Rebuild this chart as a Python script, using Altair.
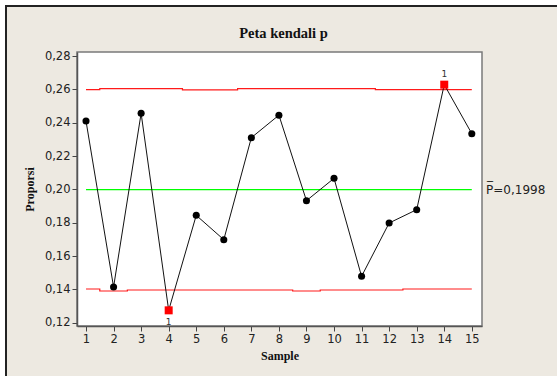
import altair as alt
import pandas as pd

# Proportion defective per sample, with Minitab-style stepped control limits
samples = list(range(1, 16))
proporsi = [0.2410, 0.1414, 0.2456, 0.1274, 0.1844, 0.1698, 0.2310, 0.2445,
            0.1932, 0.2066, 0.1478, 0.1798, 0.1878, 0.2628, 0.2334]
ucl = [0.2598, 0.2604, 0.2604, 0.2604, 0.2597, 0.2597, 0.2604, 0.2604,
       0.2604, 0.2604, 0.2604, 0.2598, 0.2598, 0.2598, 0.2598]
lcl = [0.1402, 0.1390, 0.1396, 0.1396, 0.1396, 0.1396, 0.1396, 0.1396,
       0.1390, 0.1396, 0.1396, 0.1396, 0.1402, 0.1402, 0.1402]
p_bar = 0.1998
y_ticks = [0.12, 0.14, 0.16, 0.18, 0.20, 0.22, 0.24, 0.26, 0.28]

df = pd.DataFrame({"sample": samples, "p": proporsi, "ucl": ucl, "lcl": lcl})
df["out"] = (df["p"] > df["ucl"]) | (df["p"] < df["lcl"])
df["above"] = df["p"] > df["ucl"]

W, H = 405, 274
PAD_L, PAD_T, PAD_R, PAD_B = 77, 52, 75, 50
BEIGE = "#EDE9E1"

x_scale = alt.Scale(domain=[0.673, 15.37], nice=False, zero=False)
y_scale = alt.Scale(domain=[0.118, 0.2824], nice=False, zero=False)

x_axis = alt.Axis(values=samples, format="d", labelOverlap=False,
                  labelFlush=False, title="Sample")
y_axis = alt.Axis(values=y_ticks, labelOverlap=False, labelFlush=False,
                  title="Proporsi",
                  labelExpr="replace(format(datum.value, '.2f'), '.', ',')")


def xq(field):
    return alt.X(field, type="quantitative", scale=x_scale, axis=x_axis)


def yq(field):
    return alt.Y(field, type="quantitative", scale=y_scale, axis=y_axis)


one_row = alt.Data(values=[{"k": 0}])

# White page margin around the beige graph panel, and the panel's dark frame
strip_top = alt.Chart(one_row).mark_rect(fill="white").encode(
    x=alt.value(-PAD_L), x2=alt.value(W + PAD_R),
    y=alt.value(-PAD_T), y2=alt.value(-PAD_T + 5))
strip_left = alt.Chart(one_row).mark_rect(fill="white").encode(
    x=alt.value(-PAD_L), x2=alt.value(-PAD_L + 5),
    y=alt.value(-PAD_T), y2=alt.value(H + PAD_B))
frame_top = alt.Chart(one_row).mark_rule(color="#222222", strokeWidth=2).encode(
    x=alt.value(-PAD_L + 5), x2=alt.value(W + PAD_R), y=alt.value(-PAD_T + 6))
frame_left = alt.Chart(one_row).mark_rule(color="#222222", strokeWidth=2).encode(
    x=alt.value(-PAD_L + 6), y=alt.value(-PAD_T + 5), y2=alt.value(H + PAD_B))

title = alt.Chart(one_row).mark_text(
    text="Peta kendali p", font="Liberation Serif", fontSize=14.5,
    fontWeight="bold", color="#111111", align="center", baseline="alphabetic"
).encode(x=alt.value(W / 2 + 4), y=alt.value(-14))

base = alt.Chart(df)

ucl_line = base.mark_line(color="#FF1A1A", strokeWidth=1.2, interpolate="step").encode(
    x=xq("sample"), y=yq("ucl"))
lcl_line = base.mark_line(color="#FF1A1A", strokeWidth=1.2, interpolate="step").encode(
    x=xq("sample"), y=yq("lcl"))

center = alt.Chart(alt.Data(values=[{"a": 1, "b": 15, "c": p_bar}])).mark_rule(
    color="#00FF00", strokeWidth=1.2
).encode(x=xq("a"), x2="b:Q", y=yq("c"))

center_label = alt.Chart(alt.Data(values=[{"c": p_bar}])).mark_text(
    text="P\u0305=0,1998", align="left", baseline="middle",
    font="DejaVu Sans", fontSize=12, color="#222222", dx=4
).encode(x=alt.value(W), y=yq("c"))

series = base.mark_line(color="#111111", strokeWidth=1).encode(
    x=xq("sample"), y=yq("p"))

pts_in = base.transform_filter("!datum.out").mark_circle(
    color="black", size=50, opacity=1
).encode(x=xq("sample"), y=yq("p"))

pts_out = base.transform_filter("datum.out").mark_square(
    color="#FF0000", size=64, opacity=1
).encode(x=xq("sample"), y=yq("p"))

flag_hi = base.transform_filter("datum.out && datum.above").mark_text(
    text="1", font="DejaVu Sans", fontSize=9, color="#333333", dy=-11
).encode(x=xq("sample"), y=yq("p"))

flag_lo = base.transform_filter("datum.out && !datum.above").mark_text(
    text="1", font="DejaVu Sans", fontSize=9, color="#333333", dy=12
).encode(x=xq("sample"), y=yq("p"))

chart = alt.layer(
    strip_top, strip_left, frame_top, frame_left, title,
    ucl_line, lcl_line, center, center_label,
    series, pts_in, pts_out, flag_hi, flag_lo
).properties(
    width=W, height=H,
    autosize=alt.AutoSizeParams(type="none"),
    padding={"left": PAD_L, "top": PAD_T, "right": PAD_R, "bottom": PAD_B},
    background=BEIGE,
).configure_view(
    fill="white", stroke="#7a7a7a", strokeWidth=1.5
).configure_axis(
    grid=False,
    domainColor="#555555", domainWidth=1.5,
    tickColor="#444444", tickSize=5, tickWidth=1,
    labelFont="DejaVu Sans", labelFontSize=11.5, labelColor="#222222",
    labelPadding=2, labelBound=False,
    titleFont="Liberation Serif", titleFontSize=12, titleFontWeight="bold",
    titleColor="#111111"
).configure_axisX(
    titlePadding=6
).configure_axisY(
    titlePadding=8
)

chart.save("out.html", embed_options={"renderer": "svg", "actions": False})
